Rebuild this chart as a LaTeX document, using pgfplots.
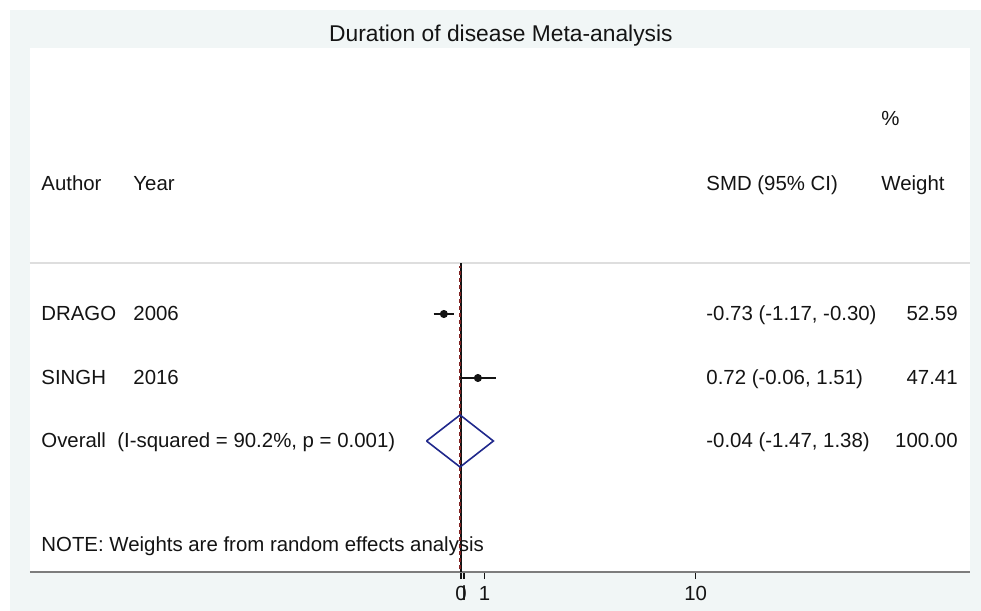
\documentclass[border=0pt]{standalone}
\usepackage{fontspec}
\setmainfont{Liberation Sans}
\usepackage{pgfplots}
\pgfplotsset{compat=1.18}
\definecolor{panel}{RGB}{241,246,246}
\definecolor{rulegray}{RGB}{222,222,222}
\definecolor{axgray}{RGB}{125,125,125}
\definecolor{navy}{RGB}{32,40,140}
\definecolor{refred}{RGB}{130,35,35}
\definecolor{ink}{RGB}{20,20,20}
\tikzset{lab/.style={inner sep=0pt, font=\fontsize{10.2}{12}\selectfont, text=ink}}

\begin{document}
\begin{tikzpicture}
\useasboundingbox (-15pt,-19.5pt) rectangle (475.5pt,286pt);
\fill[panel] (-10pt,-19.5pt) rectangle (475.5pt,281pt);
\fill[white] (0pt,0pt) rectangle (470pt,262pt);
\begin{axis}[
    scale only axis, width=470pt, height=262pt,
    xmin=-18.364, xmax=21.687, ymin=0, ymax=524,
    axis x line*=bottom, axis y line=none,
    axis line style={axgray, line width=1pt},
    xtick={0,0.13,1,10}, xticklabels={0,l,1,10},
    tick style={ink, line width=0.6pt}, major tick length=3.5pt, tick align=outside,
    xticklabel style={font=\fontsize{10.2}{12}\selectfont, text=ink},
    /pgf/number format/assume math mode=true,
    clip=false,
]
% header rule
\draw[rulegray, line width=0.8pt] (axis cs:-18.364,309) -- (axis cs:21.687,309);
% null line and overall estimate
\addplot[ink, line width=0.8pt] coordinates {(0,0) (0,309)};
\addplot[refred, line width=0.8pt, dash pattern=on 2pt off 1.5pt] coordinates {(-0.04,3) (-0.04,306)};
% confidence intervals
\addplot[ink, line width=0.9pt] coordinates {(-1.17,258) (-0.30,258)};
\addplot[ink, line width=0.9pt] coordinates {(-0.06,194) (1.51,194)};
% point estimates
\addplot[only marks, mark=*, mark size=1.8pt, ink] coordinates {(-0.73,258) (0.72,194)};
% pooled diamond
\addplot[navy, line width=0.8pt] coordinates {(-1.47,131) (-0.04,157) (1.38,131) (-0.04,105) (-1.47,131)};

% title
\node[lab, anchor=base, font=\fontsize{11.4}{13}\selectfont] at (axis cs:1.7,530) {Duration of disease Meta-analysis};
% column headers
\node[lab, anchor=base west] at (axis cs:-17.895,381) {Author};
\node[lab, anchor=base west] at (axis cs:-13.975,381) {Year};
\node[lab, anchor=base west] at (axis cs:10.44,381) {SMD (95\% CI)};
\node[lab, anchor=base west] at (axis cs:17.895,446) {\%};
\node[lab, anchor=base west] at (axis cs:17.895,381) {Weight};
% study rows
\node[lab, anchor=base west] at (axis cs:-17.895,251) {DRAGO};
\node[lab, anchor=base west] at (axis cs:-13.975,251) {2006};
\node[lab, anchor=base west] at (axis cs:-17.895,187) {SINGH};
\node[lab, anchor=base west] at (axis cs:-13.975,187) {2016};
\node[lab, anchor=base west] at (axis cs:-17.895,124) {Overall\ \ (I-squared = 90.2\%, p = 0.001)};
\node[lab, anchor=base west] at (axis cs:10.44,251) {-0.73 (-1.17, -0.30)};
\node[lab, anchor=base west] at (axis cs:10.44,187) {0.72 (-0.06, 1.51)};
\node[lab, anchor=base west] at (axis cs:10.44,124) {-0.04 (-1.47, 1.38)};
\node[lab, anchor=base east] at (axis cs:21.176,251) {52.59};
\node[lab, anchor=base east] at (axis cs:21.176,187) {47.41};
\node[lab, anchor=base east] at (axis cs:21.176,124) {100.00};
\node[lab, anchor=base west] at (axis cs:-17.895,20) {NOTE: Weights are from random effects analysis};
\end{axis}
\end{tikzpicture}
\end{document}
